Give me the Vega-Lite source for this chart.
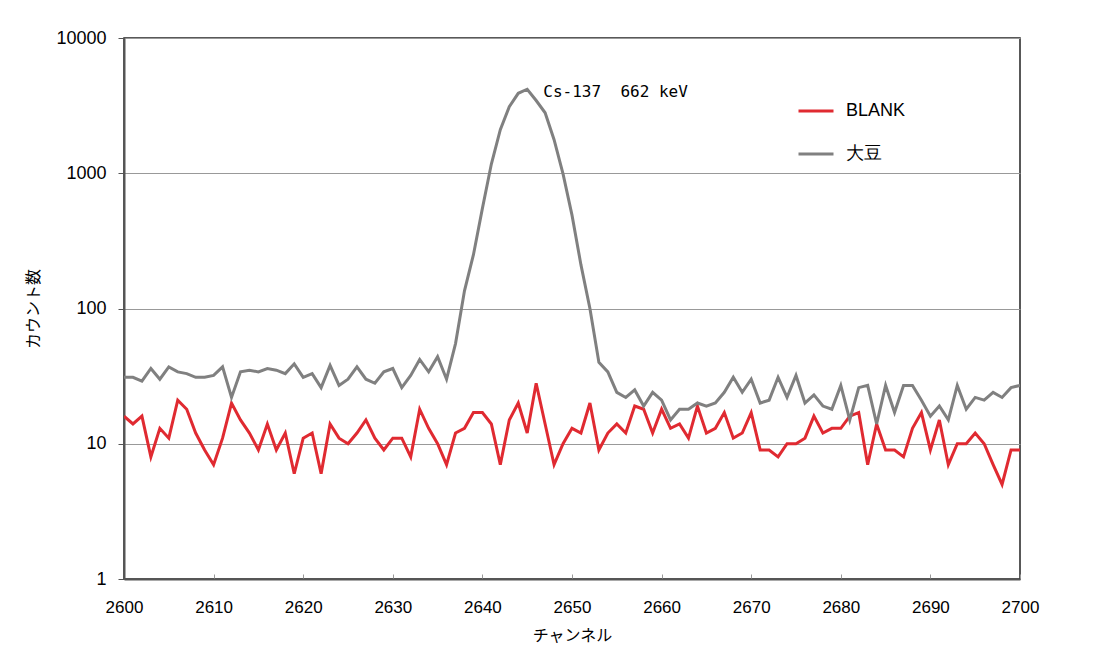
{
  "$schema": "https://vega.github.io/schema/vega-lite/v6.json",
  "width": 896,
  "height": 541,
  "autosize": "none",
  "padding": {"left": 124, "top": 38, "right": 94, "bottom": 82},
  "background": "white",
  "config": {
    "view": {"stroke": "#222", "strokeWidth": 1.5},
    "font": "Liberation Sans"
  },
  "data": {
    "values": [
      {"ch": 2600, "BLANK": 16, "大豆": 31},
      {"ch": 2601, "BLANK": 14, "大豆": 31},
      {"ch": 2602, "BLANK": 16, "大豆": 29},
      {"ch": 2603, "BLANK": 8, "大豆": 36},
      {"ch": 2604, "BLANK": 13, "大豆": 30},
      {"ch": 2605, "BLANK": 11, "大豆": 37},
      {"ch": 2606, "BLANK": 21, "大豆": 34},
      {"ch": 2607, "BLANK": 18, "大豆": 33},
      {"ch": 2608, "BLANK": 12, "大豆": 31},
      {"ch": 2609, "BLANK": 9, "大豆": 31},
      {"ch": 2610, "BLANK": 7, "大豆": 32},
      {"ch": 2611, "BLANK": 11, "大豆": 37},
      {"ch": 2612, "BLANK": 20, "大豆": 22},
      {"ch": 2613, "BLANK": 15, "大豆": 34},
      {"ch": 2614, "BLANK": 12, "大豆": 35},
      {"ch": 2615, "BLANK": 9, "大豆": 34},
      {"ch": 2616, "BLANK": 14, "大豆": 36},
      {"ch": 2617, "BLANK": 9, "大豆": 35},
      {"ch": 2618, "BLANK": 12, "大豆": 33},
      {"ch": 2619, "BLANK": 6, "大豆": 39},
      {"ch": 2620, "BLANK": 11, "大豆": 31},
      {"ch": 2621, "BLANK": 12, "大豆": 33},
      {"ch": 2622, "BLANK": 6, "大豆": 26},
      {"ch": 2623, "BLANK": 14, "大豆": 38},
      {"ch": 2624, "BLANK": 11, "大豆": 27},
      {"ch": 2625, "BLANK": 10, "大豆": 30},
      {"ch": 2626, "BLANK": 12, "大豆": 37},
      {"ch": 2627, "BLANK": 15, "大豆": 30},
      {"ch": 2628, "BLANK": 11, "大豆": 28},
      {"ch": 2629, "BLANK": 9, "大豆": 34},
      {"ch": 2630, "BLANK": 11, "大豆": 36},
      {"ch": 2631, "BLANK": 11, "大豆": 26},
      {"ch": 2632, "BLANK": 8, "大豆": 32},
      {"ch": 2633, "BLANK": 18, "大豆": 42},
      {"ch": 2634, "BLANK": 13, "大豆": 34},
      {"ch": 2635, "BLANK": 10, "大豆": 44},
      {"ch": 2636, "BLANK": 7, "大豆": 30},
      {"ch": 2637, "BLANK": 12, "大豆": 55},
      {"ch": 2638, "BLANK": 13, "大豆": 135},
      {"ch": 2639, "BLANK": 17, "大豆": 250},
      {"ch": 2640, "BLANK": 17, "大豆": 550},
      {"ch": 2641, "BLANK": 14, "大豆": 1170},
      {"ch": 2642, "BLANK": 7, "大豆": 2100},
      {"ch": 2643, "BLANK": 15, "大豆": 3100},
      {"ch": 2644, "BLANK": 20, "大豆": 3900},
      {"ch": 2645, "BLANK": 12, "大豆": 4180},
      {"ch": 2646, "BLANK": 28, "大豆": 3450},
      {"ch": 2647, "BLANK": 14, "大豆": 2800},
      {"ch": 2648, "BLANK": 7, "大豆": 1770},
      {"ch": 2649, "BLANK": 10, "大豆": 990},
      {"ch": 2650, "BLANK": 13, "大豆": 490},
      {"ch": 2651, "BLANK": 12, "大豆": 210},
      {"ch": 2652, "BLANK": 20, "大豆": 100},
      {"ch": 2653, "BLANK": 9, "大豆": 40},
      {"ch": 2654, "BLANK": 12, "大豆": 34},
      {"ch": 2655, "BLANK": 14, "大豆": 24},
      {"ch": 2656, "BLANK": 12, "大豆": 22},
      {"ch": 2657, "BLANK": 19, "大豆": 25},
      {"ch": 2658, "BLANK": 18, "大豆": 19},
      {"ch": 2659, "BLANK": 12, "大豆": 24},
      {"ch": 2660, "BLANK": 18, "大豆": 21},
      {"ch": 2661, "BLANK": 13, "大豆": 15},
      {"ch": 2662, "BLANK": 14, "大豆": 18},
      {"ch": 2663, "BLANK": 11, "大豆": 18},
      {"ch": 2664, "BLANK": 19, "大豆": 20},
      {"ch": 2665, "BLANK": 12, "大豆": 19},
      {"ch": 2666, "BLANK": 13, "大豆": 20},
      {"ch": 2667, "BLANK": 17, "大豆": 24},
      {"ch": 2668, "BLANK": 11, "大豆": 31},
      {"ch": 2669, "BLANK": 12, "大豆": 24},
      {"ch": 2670, "BLANK": 17, "大豆": 30},
      {"ch": 2671, "BLANK": 9, "大豆": 20},
      {"ch": 2672, "BLANK": 9, "大豆": 21},
      {"ch": 2673, "BLANK": 8, "大豆": 31},
      {"ch": 2674, "BLANK": 10, "大豆": 22},
      {"ch": 2675, "BLANK": 10, "大豆": 32},
      {"ch": 2676, "BLANK": 11, "大豆": 20},
      {"ch": 2677, "BLANK": 16, "大豆": 23},
      {"ch": 2678, "BLANK": 12, "大豆": 19},
      {"ch": 2679, "BLANK": 13, "大豆": 18},
      {"ch": 2680, "BLANK": 13, "大豆": 27},
      {"ch": 2681, "BLANK": 16, "大豆": 15},
      {"ch": 2682, "BLANK": 17, "大豆": 26},
      {"ch": 2683, "BLANK": 7, "大豆": 27},
      {"ch": 2684, "BLANK": 14, "大豆": 14},
      {"ch": 2685, "BLANK": 9, "大豆": 27},
      {"ch": 2686, "BLANK": 9, "大豆": 17},
      {"ch": 2687, "BLANK": 8, "大豆": 27},
      {"ch": 2688, "BLANK": 13, "大豆": 27},
      {"ch": 2689, "BLANK": 17, "大豆": 21},
      {"ch": 2690, "BLANK": 9, "大豆": 16},
      {"ch": 2691, "BLANK": 15, "大豆": 19},
      {"ch": 2692, "BLANK": 7, "大豆": 15},
      {"ch": 2693, "BLANK": 10, "大豆": 27},
      {"ch": 2694, "BLANK": 10, "大豆": 18},
      {"ch": 2695, "BLANK": 12, "大豆": 22},
      {"ch": 2696, "BLANK": 10, "大豆": 21},
      {"ch": 2697, "BLANK": 7, "大豆": 24},
      {"ch": 2698, "BLANK": 5, "大豆": 22},
      {"ch": 2699, "BLANK": 9, "大豆": 26},
      {"ch": 2700, "BLANK": 9, "大豆": 27}
    ]
  },
  "layer": [
    {
      "transform": [{"fold": ["BLANK", "大豆"], "as": ["series", "count"]}],
      "mark": {"type": "line", "strokeWidth": 3, "clip": true},
      "encoding": {
        "x": {
          "field": "ch",
          "type": "quantitative",
          "scale": {"domain": [2600, 2700], "nice": false, "zero": false},
          "axis": {
            "values": [2600, 2610, 2620, 2630, 2640, 2650, 2660, 2670, 2680, 2690, 2700],
            "format": "d",
            "grid": false,
            "tickSize": -5,
            "tickColor": "#999",
            "domainColor": "#555",
            "domainWidth": 2,
            "labelFontSize": 17,
            "labelColor": "#000",
            "labelPadding": 25,
            "labelFlush": false,
            "title": "チャンネル",
            "titleFont": "Noto Sans CJK JP",
            "titleFontSize": 16,
            "titleFontWeight": "normal",
            "titleColor": "#000",
            "titlePadding": 12
          }
        },
        "y": {
          "field": "count",
          "type": "quantitative",
          "scale": {"type": "log", "domain": [1, 10000], "nice": false},
          "axis": {
            "values": [1, 10, 100, 1000, 10000],
            "format": "d",
            "grid": true,
            "gridColor": "#999",
            "gridWidth": 1,
            "tickSize": 6,
            "tickColor": "#555",
            "domainColor": "#555",
            "domainWidth": 2,
            "labelFontSize": 18,
            "labelColor": "#000",
            "labelPadding": 12,
            "title": "カウント数",
            "titleFont": "Noto Sans CJK JP",
            "titleFontSize": 16,
            "titleFontWeight": "normal",
            "titleColor": "#000",
            "titlePadding": 14
          }
        },
        "color": {
          "field": "series",
          "type": "nominal",
          "scale": {"domain": ["BLANK", "大豆"], "range": ["#E02A31", "#808080"]},
          "legend": {
            "title": null,
            "orient": "none",
            "legendX": 673,
            "legendY": 54,
            "symbolType": "stroke",
            "symbolSize": 1225,
            "symbolStrokeWidth": 3,
            "labelFontSize": 18,
            "labelColor": "#000",
            "labelOffset": 11,
            "rowPadding": 15
          }
        }
      }
    },
    {
      "data": {"values": [{"x": 2646.8, "y": 3990, "t": "Cs-137\u00a0\u00a0662\u00a0keV"}]},
      "mark": {"type": "text", "align": "left", "baseline": "middle", "font": "DejaVu Sans Mono", "fontSize": 16, "color": "#000"},
      "encoding": {
        "x": {"field": "x", "type": "quantitative"},
        "y": {"field": "y", "type": "quantitative"},
        "text": {"field": "t"}
      }
    }
  ]
}
